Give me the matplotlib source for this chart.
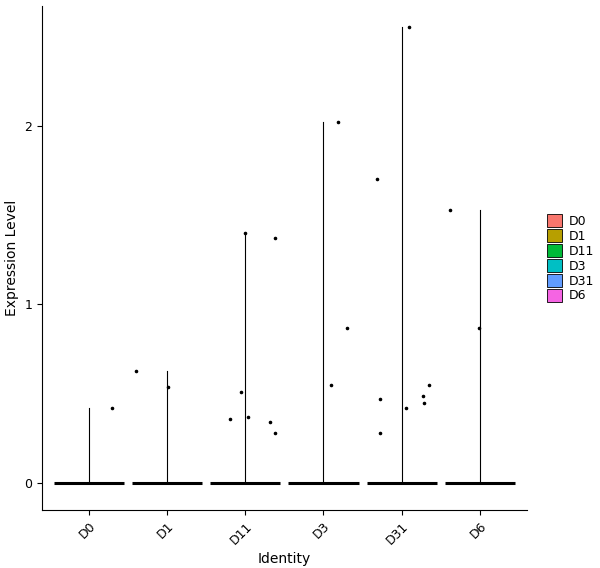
import numpy as np
from matplotlib import pyplot as plt
from matplotlib.patches import Patch

groups = ['D0', 'D1', 'D11', 'D3', 'D31', 'D6']
colors = ['#F8766D', '#B79F00', '#00BA38', '#00BFC4', '#619CFF', '#F564E3']
max_vals = [0.42, 0.63, 1.40, 2.02, 2.55, 1.53]

# nonzero cells: (jitter offset, value) per group
pts_x = {
    'D0': [0.29],
    'D1': [-0.40, 0.01],
    'D11': [-0.01, 0.38, -0.06, 0.03, -0.19, 0.31, 0.38],
    'D3': [0.19, 0.30, 0.09],
    'D31': [0.09, -0.31, -0.28, 0.05, 0.35, 0.27, 0.29, -0.28],
    'D6': [-0.38, -0.01],
}
pts_y = {
    'D0': [0.42],
    'D1': [0.63, 0.54],
    'D11': [1.40, 1.37, 0.51, 0.37, 0.36, 0.34, 0.28],
    'D3': [2.02, 0.87, 0.55],
    'D31': [2.55, 1.70, 0.47, 0.42, 0.55, 0.49, 0.45, 0.28],
    'D6': [1.53, 0.87],
}

fig, ax = plt.subplots(figsize=(6, 5.68), dpi=100)
fig.subplots_adjust(left=0.07, right=0.878, top=0.99, bottom=0.102)

for i, g in enumerate(groups):
    x = i + 1
    # degenerate violin: flat at zero plus a thin spike to max
    ax.plot([x - 0.45, x + 0.45], [0, 0], color='black', lw=2.2, solid_capstyle='butt', zorder=2)
    ax.plot([x, x], [0, max_vals[i]], color='black', lw=0.8, zorder=2)
    ax.scatter(x + np.array(pts_x[g]), pts_y[g], s=2.5, color='black', zorder=3)

ax.set_xlim(0.4, 6.6)
ax.set_ylim(-0.15, 2.67)
ax.set_xticks(range(1, 7))
ax.set_xticklabels(groups, rotation=45, ha='right', rotation_mode='anchor', fontsize=9)
ax.set_yticks([0, 1, 2])
ax.tick_params(labelsize=9)
for s in ['top', 'right']:
    ax.spines[s].set_visible(False)
ax.set_xlabel('Identity', fontsize=10)
ax.set_ylabel('Expression Level', fontsize=10)

handles = [Patch(facecolor=c, edgecolor='black', lw=0.6, label=g) for g, c in zip(groups, colors)]
fig.legend(handles=handles, loc='center left', bbox_to_anchor=(0.893, 0.545), frameon=False,
           fontsize=9, handlelength=1.2, handleheight=1.2, handletextpad=0.5, labelspacing=0.1)

fig.savefig('out.png')
